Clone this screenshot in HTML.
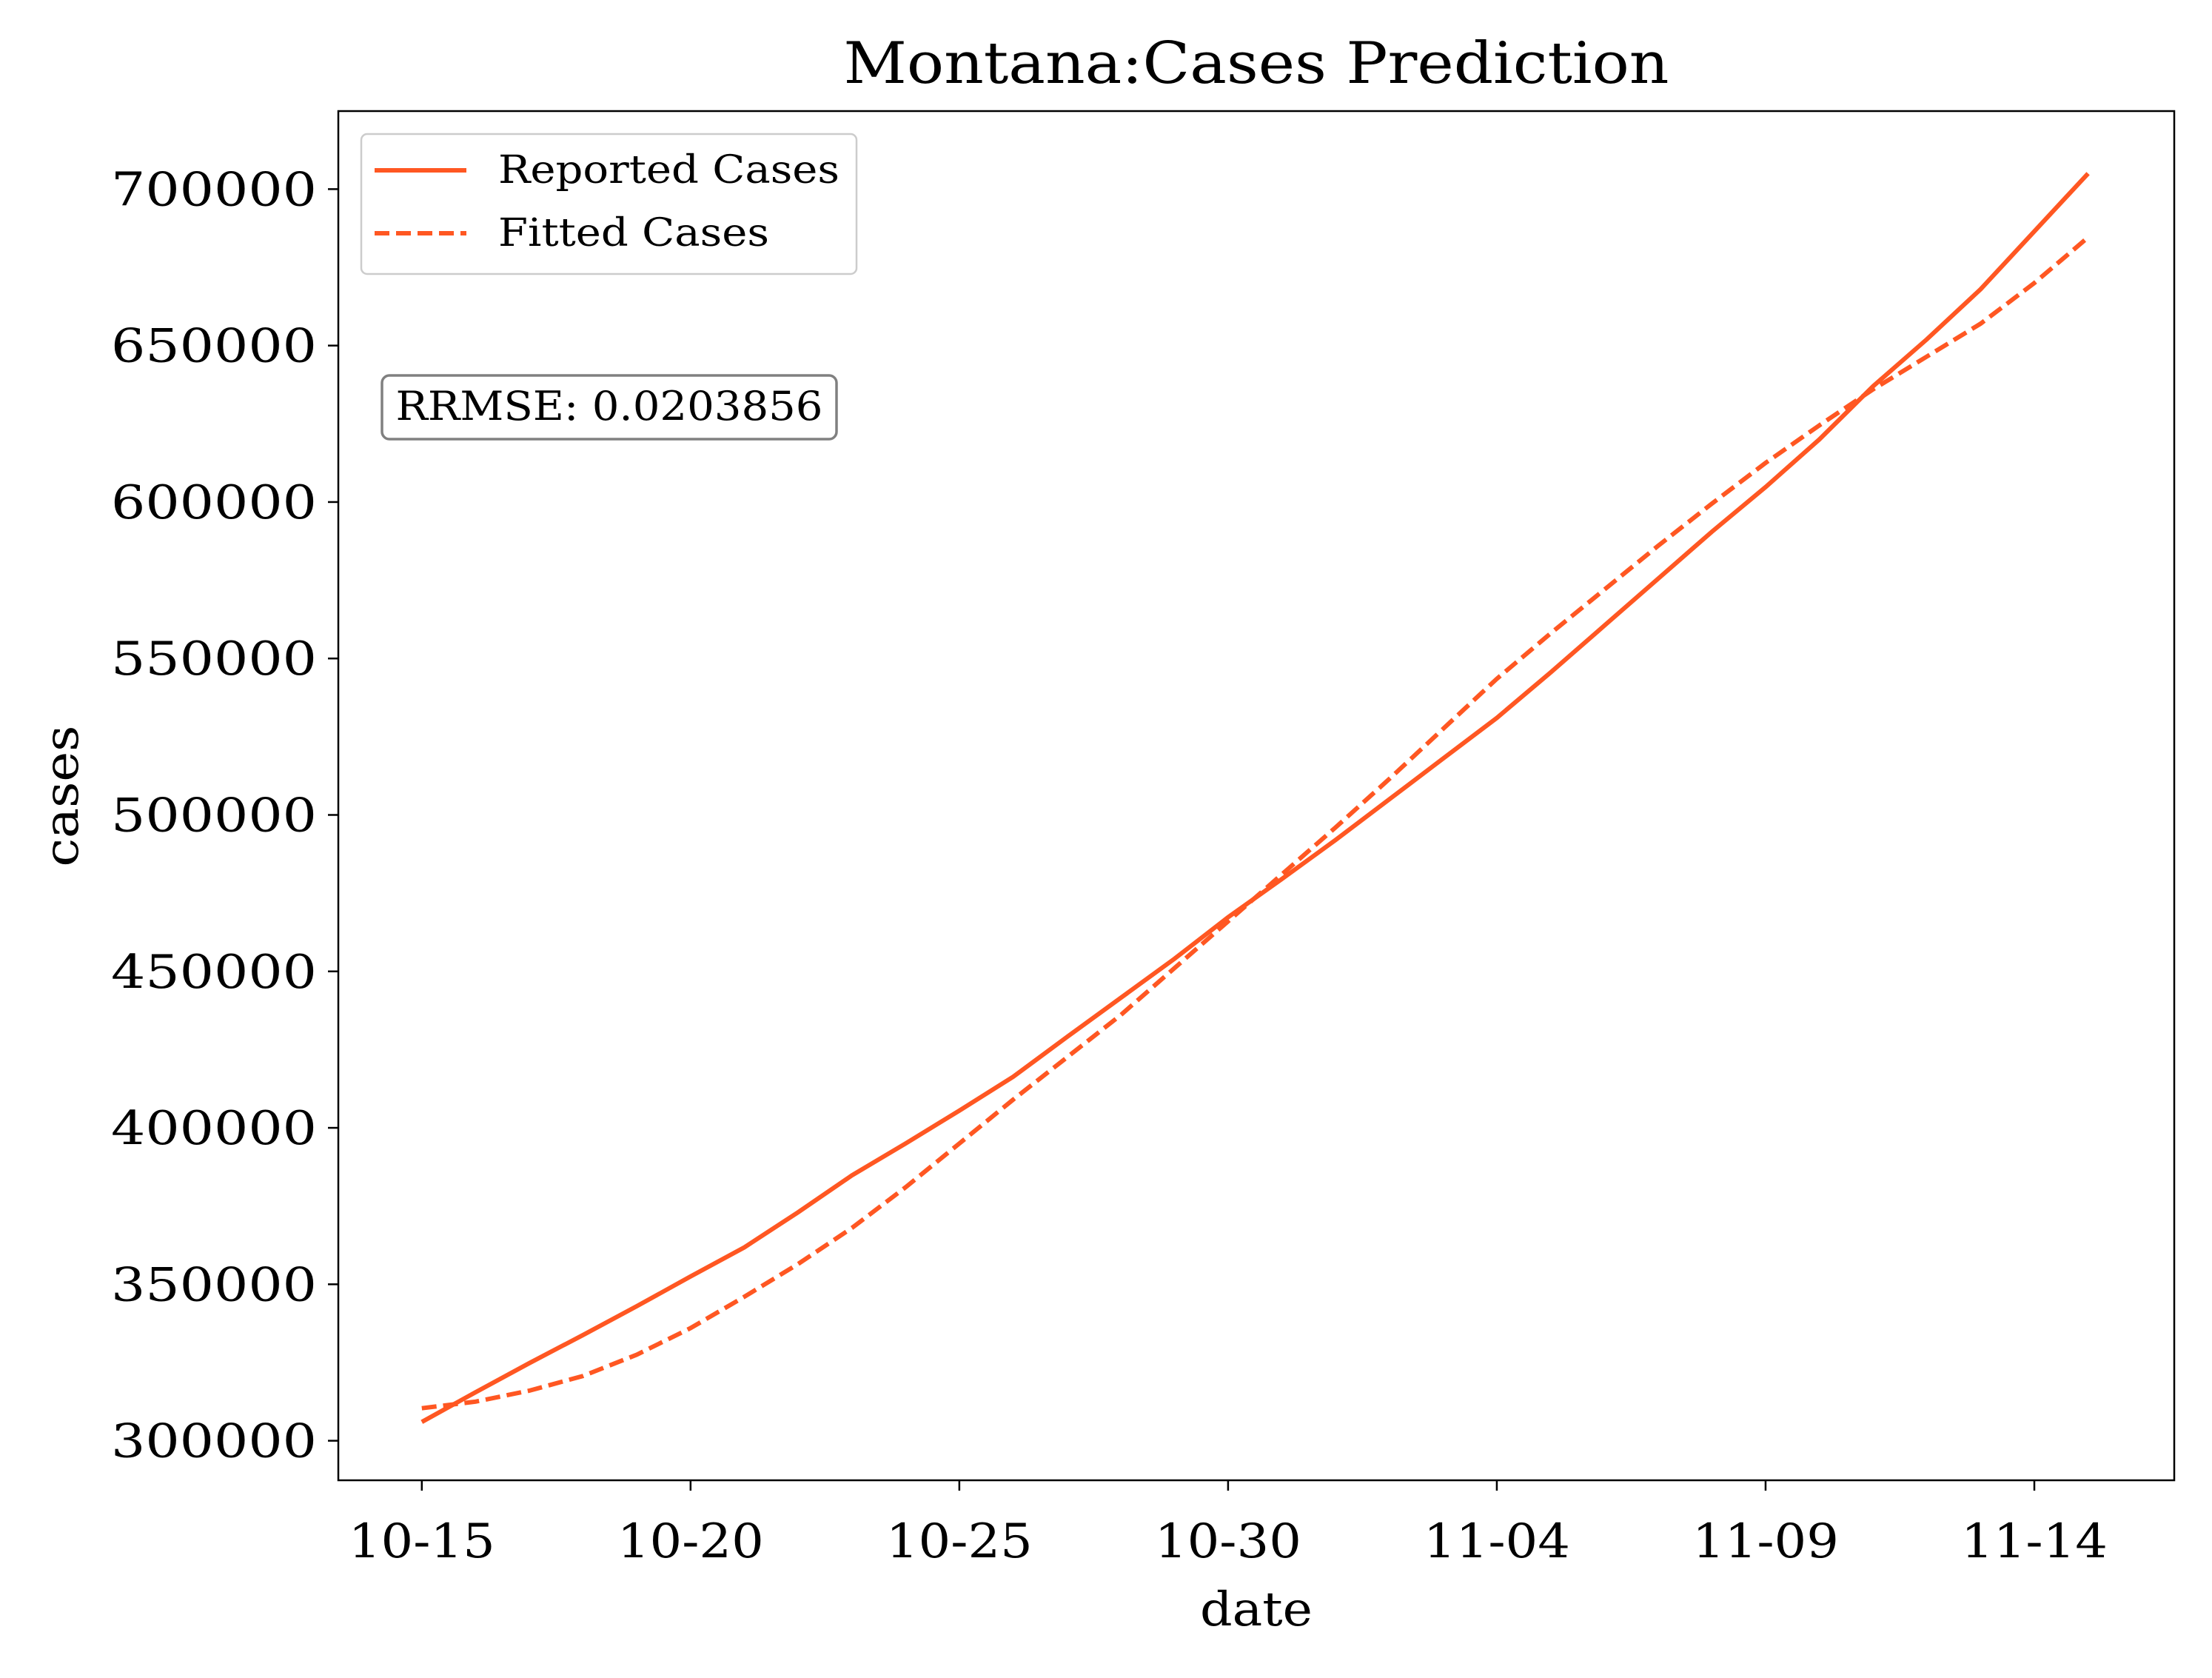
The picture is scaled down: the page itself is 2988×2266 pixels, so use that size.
<!DOCTYPE html>
<html><head><meta charset="utf-8"><style>
body{margin:0;background:#fff}
svg text{font-family:"DejaVu Serif","Liberation Serif",serif;fill:#000}
</style></head><body>
<svg id="chart" width="2988" height="2261" viewBox="0 0 2988 2261" xmlns="http://www.w3.org/2000/svg">
<rect width="2988" height="2261" fill="#fff"/>
<text x="1697" y="112" font-size="78" text-anchor="middle" textLength="1115" lengthAdjust="spacingAndGlyphs">Montana:Cases Prediction</text>
<g id="ticks"></g>
<g id="lines"></g>
<rect x="457" y="150" width="2480" height="1849" fill="none" stroke="#000" stroke-width="2.5"/>
<text x="1697" y="2195" font-size="64" text-anchor="middle" textLength="152" lengthAdjust="spacingAndGlyphs">date</text>
<text transform="translate(105,1075) rotate(-90)" font-size="64" text-anchor="middle" textLength="191" lengthAdjust="spacingAndGlyphs">cases</text>
<g>
<rect x="488" y="181" width="669" height="189" rx="8" fill="#fff" stroke="#ccc" stroke-width="2.5"/>
<line x1="506" y1="230" x2="630" y2="230" stroke="#ff5722" stroke-width="6"/>
<text x="673" y="247" font-size="52" textLength="461" lengthAdjust="spacingAndGlyphs">Reported Cases</text>
<line x1="506" y1="315" x2="630" y2="315" stroke="#ff5722" stroke-width="6" stroke-dasharray="20,9"/>
<text x="673" y="332" font-size="52" textLength="366" lengthAdjust="spacingAndGlyphs">Fitted Cases</text>
</g>
<g>
<rect x="516" y="507" width="614" height="86" rx="10" fill="#fff" stroke="#808080" stroke-width="3.5"/>
<text x="823" y="567" font-size="54" text-anchor="middle" textLength="577" lengthAdjust="spacingAndGlyphs">RRMSE: 0.0203856</text>
</g>
</svg>
<script>
const xLabels=["10-15","10-20","10-25","10-30","11-04","11-09","11-14"];
const xLabelDays=[0,5,10,15,20,25,30];
const yTicks=[300000,350000,400000,450000,500000,550000,600000,650000,700000];
const days=[0,1,2,3,4,5,6,7,8,9,10,11,12,13,14,15,16,17,18,19,20,21,22,23,24,25,26,27,28,29,30,31];
const reported=[306000,315500,324800,333800,343000,352500,361800,373000,384800,395000,405500,416300,429000,441500,454000,467300,479500,492000,505000,518000,531000,545500,560500,575500,590500,604800,620000,637000,652000,668000,686500,705000];
const fitted=[310400,312500,316000,320700,327500,336000,346000,356500,368000,381000,395000,409000,422500,436000,451000,466000,481000,496000,511500,527500,543500,558000,572000,586000,599500,612500,624500,636000,646500,657000,670000,684600];
const X=d=>569.8+d*(2748-569.8)/30;
const Y=v=>1945.6-(v-300000)*(1945.6-255.4)/400000;
const NS="http://www.w3.org/2000/svg";
const tg=document.getElementById('ticks'),lg=document.getElementById('lines');
function mk(t,a){const e=document.createElementNS(NS,t);for(const k in a)e.setAttribute(k,a[k]);return e;}
xLabels.forEach((l,i)=>{const x=X(xLabelDays[i]);
const t=mk('line',{x1:x,y1:1999,x2:x,y2:2013,stroke:'#000','stroke-width':2.5});


tg.appendChild(t);
const s=mk('text',{x:x,y:2103,'font-size':64,'text-anchor':'middle',textLength:198,lengthAdjust:'spacingAndGlyphs'});s.textContent=l;


tg.appendChild(s);});
yTicks.forEach(v=>{const y=Y(v);
const t=mk('line',{x1:443,y1:y,x2:457,y2:y,stroke:'#000','stroke-width':2.5});


tg.appendChild(t);
const s=mk('text',{x:428,y:y+22,'font-size':63,'text-anchor':'end',textLength:278,lengthAdjust:'spacingAndGlyphs'});s.textContent=v;


tg.appendChild(s);});
function path(vals,dash,name){const d=vals.map((v,i)=>(i?'L':'M')+X(days[i]).toFixed(1)+','+Y(v).toFixed(1)).join('');
const p=mk('path',{d:d,fill:'none',stroke:'#ff5722','stroke-width':6});
if(dash)p.setAttribute('stroke-dasharray','20,9');


lg.appendChild(p);}
path(reported,false,'reported-cases-line');
path(fitted,true,'fitted-cases-line');
</script>
</body></html>
